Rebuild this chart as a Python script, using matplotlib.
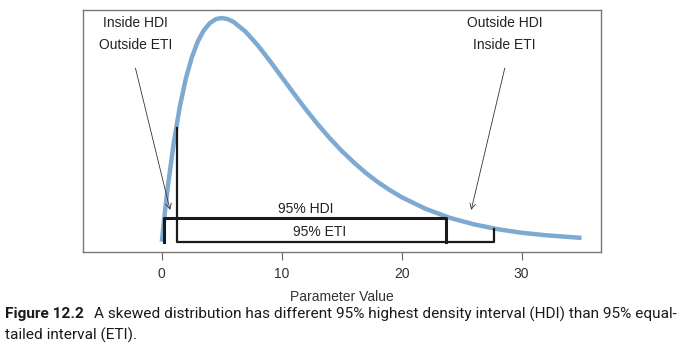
import matplotlib
matplotlib.use("Agg")
import matplotlib.pyplot as plt

# density curve (peak scaled to 1)
param = [0, 0.25, 0.5, 1, 1.5, 2, 2.5, 3, 3.5, 4, 4.5, 5, 5.5, 6, 7, 8, 9, 10,
         11, 12, 13, 14, 15, 16, 17, 18, 19, 20, 22, 24, 26, 28, 30, 32, 35]
density = [0, 0.129, 0.246, 0.445, 0.604, 0.729, 0.824, 0.895, 0.945, 0.977,
           0.995, 1.0, 0.995, 0.982, 0.938, 0.878, 0.809, 0.736, 0.663, 0.592,
           0.525, 0.463, 0.406, 0.355, 0.308, 0.267, 0.231, 0.199, 0.147,
           0.107, 0.078, 0.056, 0.040, 0.029, 0.017]

hdi = [0.2, 23.7]
hdi_level = 0.105
eti = [1.3, 27.7]
eti_tops = [0.51, 0.059]
xticks = [0, 10, 20, 30]

plt.rcParams['font.family'] = ['Liberation Sans', 'DejaVu Sans']

fig = plt.figure(figsize=(6.8, 3.52), dpi=100)
ax = fig.add_axes([0.1216, 0.2841, 0.7618, 0.6889])

ax.plot(param, density, color='#7eaad2', lw=3.2, solid_capstyle='butt', zorder=2)

# HDI bracket
ax.plot([hdi[0], hdi[0], hdi[1], hdi[1]], [0, hdi_level, hdi_level, 0],
        color='#1a1a1a', lw=2.2, zorder=3)
# ETI bracket
ax.plot([eti[0], eti[0], eti[1], eti[1]], [eti_tops[0], 0, 0, eti_tops[1]],
        color='#1a1a1a', lw=1.6, zorder=3)

ax.text(12.0, 0.113, "95% HDI", ha='center', va='bottom', fontsize=10, color='#222')
ax.text(13.2, 0.045, "95% ETI", ha='center', va='center', fontsize=10, color='#222')

ax.text(-2.2, 0.93, "Inside HDI\nOutside ETI", ha='center', va='center',
        fontsize=10, color='#222', linespacing=1.75)
ax.text(28.6, 0.93, "Outside HDI\nInside ETI", ha='center', va='center',
        fontsize=10, color='#222', linespacing=1.75)

arrow = dict(arrowstyle='->', lw=0.6, color='#333', shrinkA=0, shrinkB=0)
ax.annotate("", xy=(0.69, 0.142), xytext=(-2.2, 0.776), arrowprops=arrow)
ax.annotate("", xy=(25.8, 0.142), xytext=(28.6, 0.776), arrowprops=arrow)

ax.set_xlim(-6.6, 36.6)
ax.set_ylim(-0.046, 1.038)
ax.set_xticks(xticks)
ax.set_yticks([])
ax.tick_params(axis='x', direction='out', length=6, width=0.8, color='#666',
               labelsize=10, labelcolor='#333', pad=5)
for s in ax.spines.values():
    s.set_color('#777')
    s.set_linewidth(1.0)
ax.set_xlabel("Parameter Value", fontsize=10, color='#333', labelpad=6)

# caption: bold figure number, then regular text fitted to the line width
cap_font = ['Roboto', 'DejaVu Sans']
cap1 = "A skewed distribution has different 95% highest density interval (HDI) than 95% equal-"
size = 10.5
fig_num = fig.text(5 / 680, 0.108, "Figure 12.2", ha='left', va='center', fontsize=size,
                   fontweight='bold', family=cap_font, color='#1a1a1a')
line1 = fig.text(0.2, 0.108, cap1, ha='left', va='center', fontsize=size,
                 family=cap_font, color='#1a1a1a')
line2 = fig.text(5 / 680, 0.047, "tailed interval (ETI).", ha='left', va='center',
                 fontsize=size, family=cap_font, color='#1a1a1a')

renderer = fig.canvas.get_renderer()
for _ in range(3):
    for t in (fig_num, line1, line2):
        t.set_fontsize(size)
    bold_end = fig_num.get_window_extent(renderer).x1
    line1.set_x((bold_end + 0.9 * size) / 680)
    ext = line1.get_window_extent(renderer)
    size = size * (675 - ext.x0) / ext.width

fig.savefig("out.png", dpi=100)
